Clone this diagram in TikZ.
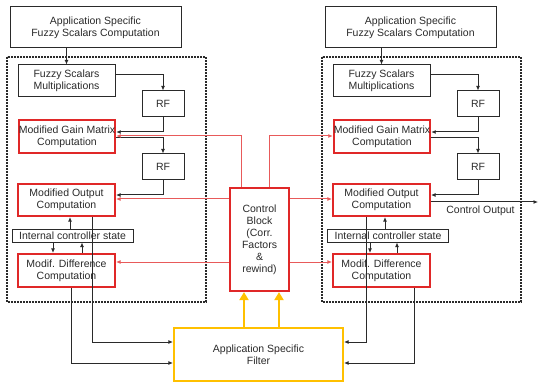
\documentclass[tikz,border=0pt]{standalone}
\usepackage{fontspec}
\setmainfont{Liberation Sans}
\usetikzlibrary{arrows.meta}
\definecolor{myred}{HTML}{E02828}
\definecolor{linered}{HTML}{E85A5A}
\definecolor{myyellow}{HTML}{FFC000}
\definecolor{ink}{HTML}{2A2A2A}
\begin{document}
\begin{tikzpicture}[x=1pt,y=-1pt,
  font=\fontsize{10.5}{12}\selectfont, text=ink,
  box/.style={draw=ink, line width=1pt, inner sep=0pt, align=center},
  redbox/.style={box, draw=myred, line width=2.2pt},
  ylbox/.style={box, draw=myyellow, line width=2.2pt},
  dotbox/.style={draw=ink, line width=1.8pt, dash pattern=on 1.6pt off 1.4pt},
  conn/.style={draw=ink, line width=1pt, -{Latex[length=4.5pt,width=4pt]}},
  rconn/.style={draw=linered, line width=1pt, -{Latex[length=4.5pt,width=4pt]}},
  yconn/.style={draw=myyellow, line width=2.5pt, -{Triangle[length=8pt,width=9pt]}},
  sz/.style 2 args={minimum width=#1, minimum height=#2}]
\useasboundingbox (0,0) rectangle (538,382);

% ---------- left unit ----------
\node[box, sz={171pt}{41pt}] (topL) at (95.5,27.5) {Application Specific\\Fuzzy Scalars Computation};
\draw[dotbox] (7,57) rectangle (206,302);
\node[box, sz={97pt}{32pt}] (fsmL) at (66.5,81) {Fuzzy Scalars\\Multiplications};
\node[box, sz={42pt}{26pt}] (rf1L) at (163,104) {RF};
\node[redbox, sz={96pt}{33pt}] (mgmL) at (67,136.5) {Modified Gain Matrix\\Computation};
\node[box, sz={42pt}{26pt}] (rf2L) at (163,167) {RF};
\node[redbox, sz={97pt}{32pt}] (mocL) at (66.5,200) {Modified Output\\Computation};
\node[box, sz={121pt}{12pt}] (icsL) at (72.5,236) {Internal controller state};
\node[redbox, sz={97pt}{33pt}] (mdcL) at (66.5,270.5) {Modif. Difference\\Computation};

% ---------- right unit ----------
\node[box, sz={171pt}{41pt}] (topR) at (410.5,27.5) {Application Specific\\Fuzzy Scalars Computation};
\draw[dotbox] (322,57) rectangle (521,302);
\node[box, sz={97pt}{32pt}] (fsmR) at (381.5,81) {Fuzzy Scalars\\Multiplications};
\node[box, sz={42pt}{26pt}] (rf1R) at (478,104) {RF};
\node[redbox, sz={96pt}{33pt}] (mgmR) at (382,136.5) {Modified Gain Matrix\\Computation};
\node[box, sz={42pt}{26pt}] (rf2R) at (478,167) {RF};
\node[redbox, sz={97pt}{32pt}] (mocR) at (381.5,200) {Modified Output\\Computation};
\node[box, sz={121pt}{12pt}] (icsR) at (388,236) {Internal controller state};
\node[redbox, sz={97pt}{33pt}] (mdcR) at (381.5,270.5) {Modif. Difference\\Computation};

% ---------- centre ----------
\node[redbox, sz={59pt}{103pt}] (ctrl) at (259.5,239.5) {Control\\Block\\(Corr.\\Factors\\\&\\rewind)};
\node[ylbox, sz={169pt}{53pt}] (filt) at (258.5,354.5) {Application Specific\\Filter};

% ---------- left connectors ----------
\draw[conn] (fsmL.north |- topL.south) -- (fsmL.north);
\draw[conn] (fsmL.east |- 0,75) -| (rf1L.north);
\draw[conn] (rf1L.south) |- (mgmL.east |- 0,132);
\draw[conn] (mgmL.east |- 0,138) -| (rf2L.north);
\draw[conn] (rf2L.south) |- (mocL.east |- 0,195);
\draw[conn] (icsL.north -| 70,0) -- (mocL.south -| 70,0);
\draw[conn] (icsL.south -| 53,0) -- (mdcL.north -| 53,0);
\draw[conn] (mdcL.north -| 82,0) -- (icsL.south -| 82,0);
\draw[conn] (mocL.south -| 92,0) |- (filt.west |- 0,342);
\draw[conn] (mdcL.south -| 71,0) |- (filt.west |- 0,363);

% ---------- right connectors ----------
\draw[conn] (fsmR.north |- topR.south) -- (fsmR.north);
\draw[conn] (fsmR.east |- 0,75) -| (rf1R.north);
\draw[conn] (rf1R.south) |- (mgmR.east |- 0,132);
\draw[conn] (mgmR.east |- 0,138) -| (rf2R.north);
\draw[conn] (rf2R.south) |- (mocR.east |- 0,195);
\draw[conn] (icsR.north -| 385,0) -- (mocR.south -| 385,0);
\draw[conn] (icsR.south -| 370,0) -- (mdcR.north -| 370,0);
\draw[conn] (mdcR.north -| 397,0) -- (icsR.south -| 397,0);
\draw[conn] (mocR.south -| 366,0) |- (filt.east |- 0,342);
\draw[conn] (mdcR.south -| 414,0) |- (filt.east |- 0,363);
\coordinate (out) at (538,202);
\draw[conn] (mocR.east |- out) -- (out);
\node[inner sep=0pt] (outlbl) at (480.5,211) {Control Output};

% ---------- control block connectors ----------
\draw[rconn] (ctrl.north -| 241,0) |- (mgmL.east |- 0,136);
\draw[rconn] (ctrl.west |- 0,199) -- (mocL.east |- 0,199);
\draw[rconn] (ctrl.west |- 0,262) -- (mdcL.east |- 0,262);
\draw[rconn] (ctrl.north -| 269,0) |- (mgmR.west |- 0,136);
\draw[rconn] (ctrl.east |- 0,199) -- (mocR.west |- 0,199);
\draw[rconn] (ctrl.east |- 0,262) -- (mdcR.west |- 0,262);

% ---------- filter to control block ----------
\draw[yconn] (filt.north -| 244,0) -- (ctrl.south -| 244,0);
\draw[yconn] (filt.north -| 279,0) -- (ctrl.south -| 279,0);
\end{tikzpicture}
\end{document}
